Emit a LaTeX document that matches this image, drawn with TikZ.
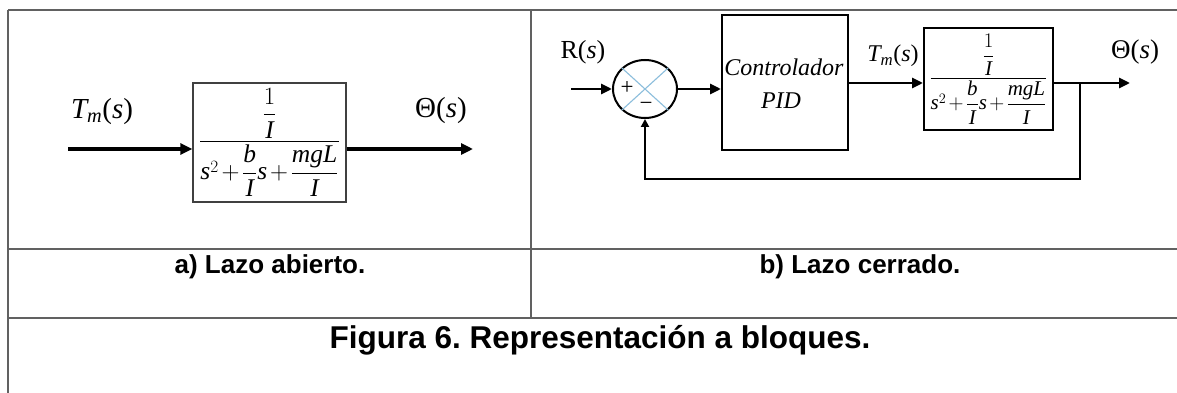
\documentclass[tikz,border=0pt]{standalone}
\usepackage{amsmath}
\usepackage{fontspec}
\setmainfont{Liberation Serif}
\setsansfont{Liberation Sans}
\usetikzlibrary{arrows.meta,shapes.geometric}
\frenchspacing
\newcommand\vi[1]{\textit{#1}}
\newcommand\tfn{\medmuskip=2mu\dfrac{\dfrac{1}{\vi{I}}}{\vi{s}^{2}+\dfrac{\vi{b}}{\vi{I}}\vi{s}+\dfrac{\vi{mgL}}{\vi{I}}}}
\tikzset{
  tline/.style={draw=black!62, line width=1.8pt},
  blkL/.style={draw=black!75, line width=1.4pt, inner sep=0pt, minimum width=153pt, minimum height=119pt},
  blkR/.style={draw=black, line width=2pt, inner sep=0pt},
  arrL/.style={line width=3.4pt, -{Triangle[length=12pt,width=11pt]}},
  arrR/.style={line width=2.8pt, -{Triangle[length=11pt,width=10pt]}},
  fbline/.style={line width=2.2pt, -{Triangle[length=8pt,width=8pt]}},
  lbl/.style={inner sep=0pt, font=\fontsize{25}{28}\selectfont},
  captxt/.style={inner sep=0pt, font=\sffamily\bfseries\fontsize{26}{30}\selectfont},
  figcap/.style={inner sep=0pt, font=\sffamily\bfseries\fontsize{31.5}{36}\selectfont},
}
\begin{document}
\begin{tikzpicture}[x=1pt,y=-1pt]
\useasboundingbox (0,0) rectangle (1177,393);
\fill[white] (0,0) rectangle (1177,393);
% table
\draw[tline] (8,10) -- (1177,10);
\draw[tline] (8,10) -- (8,393);
\draw[tline] (531,10) -- (531,318);
\draw[tline] (8,249) -- (1177,249);
\draw[tline] (8,318) -- (1177,318);
% captions
\node[captxt] (capa) at (270,267) {a) Lazo abierto.};
\node[captxt] (capb) at (860,267) {b) Lazo cerrado.};
\node[figcap] (fig) at (600,340) {Figura 6. Representación a bloques.};
% ---- left panel
\node[blkL] (G1) at (269.5,142.5) {\fontsize{25.5}{28}\selectfont$\tfn$};
\coordinate (inL) at (68,149);
\coordinate (outL) at (473,149);
\draw[arrL] (inL) -- (inL -| G1.west);
\draw[arrL] (G1.east |- inL) -- (outL);
\node[lbl] (tmL) at (102,112) {\fontsize{29}{32}\selectfont$\vi{T}_{\vi{m}}$(\vi{s})};
\node[lbl] (thL) at (441,111) {\fontsize{29}{32}\selectfont Θ(\vi{s})};
% ---- right panel
\coordinate (inR) at (571,89);
\node[draw=black, line width=2pt, ellipse, minimum width=64pt, minimum height=58pt, inner sep=0pt] (sum) at (645,89) {};
\draw[color={rgb,255:red,140;green,190;blue,220}, line width=1.1pt] (sum.north west) -- (sum.south east) (sum.north east) -- (sum.south west);
\node[inner sep=0pt, font=\fontsize{23}{24}\selectfont] (plus) at (627,88) {+};
\node[inner sep=0pt, font=\fontsize{23}{24}\selectfont] (minus) at (646,106) {−};
\node[lbl] (rlab) at (583,52) {\fontsize{26}{28}\selectfont R(\vi{s})};
\node[blkR, minimum width=126pt, minimum height=135pt] (pid) at (785,82.5) {};
\node[lbl, font=\fontsize{24}{28}\selectfont] (ctl) at (784,67) {\vi{Controlador}};
\node[lbl, font=\fontsize{24}{28}\selectfont] (pidt) at (781,101) {\vi{PID}};
\node[blkR, minimum width=129pt, minimum height=102pt] (G2) at (988.5,79) {\fontsize{21}{24}\selectfont$\tfn$};
\coordinate (outR) at (1130,83);
\coordinate (br) at (1080,83);
\coordinate (fbl) at (645,179);
\draw[arrR] (inR) -- (sum.west);
\draw[arrR] (sum.east) -- (pid.west |- sum.east);
\draw[arrR] (pid.east |- outR) -- (G2.west |- outR);
\draw[arrR] (G2.east |- outR) -- (outR);
\draw[fbline] (br) |- (fbl) -- (sum.south);
\node[lbl] (tmR) at (893,56) {\fontsize{24}{28}\selectfont$\vi{T}_{\vi{m}}$(\vi{s})};
\node[lbl] (thR) at (1135,52) {\fontsize{27}{30}\selectfont Θ(\vi{s})};
\end{tikzpicture}
\end{document}
